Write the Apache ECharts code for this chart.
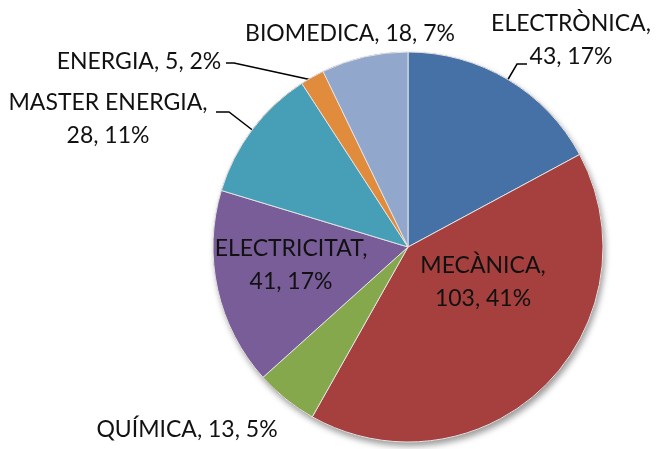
<!DOCTYPE html>
<html>
<head>
<meta charset="utf-8">
<script src="https://cdn.jsdelivr.net/npm/echarts@6/dist/echarts.min.js"></script>
<style>
  html, body { margin: 0; padding: 0; background: #fff; }
  #chart { width: 656px; height: 449px; }
</style>
</head>
<body>
<div id="chart"></div>
<script>
// categories, values and the percent text shown in the reference
const categories = ['ELECTRÒNICA', 'MECÀNICA', 'QUÍMICA', 'ELECTRICITAT', 'MASTER ENERGIA', 'ENERGIA', 'BIOMEDICA'];
const values = [43, 103, 13, 41, 28, 5, 18];
const percentLabels = ['17%', '41%', '5%', '17%', '11%', '2%', '7%'];

const colors = ['#4671a7', '#a5403e', '#86a84c', '#785d98', '#469fb7', '#e18b3c', '#92a7cc'];

// where each label sits (centre of the text block), how it breaks,
// and where its leader line meets the text (null = no line)
const labelPlace = [
  { x: 571, y: 40, two: true, attach: [527, 64], elbow: [517, 64] },
  { x: 483, y: 282, two: true, attach: null },
  { x: 187, y: 430, two: false, attach: null },
  { x: 291, y: 265, two: true, attach: null },
  { x: 108, y: 119, two: true, attach: [216, 112], elbow: [229, 112] },
  { x: 139, y: 62, two: false, attach: [226, 63], elbow: [234, 63] },
  { x: 350, y: 34, two: false, attach: null }
];

const cx = 408, cy = 247, radius = 195;

// mid angle of each slice, clockwise from 12 o'clock
const total = values.reduce((a, b) => a + b, 0);
function edgePoint(i) {
  let before = 0;
  for (let k = 0; k < i; k++) before += values[k];
  const a = (before + values[i] / 2) / total * Math.PI * 2;
  const r = radius - 4;
  return [cx + r * Math.sin(a), cy - r * Math.cos(a)];
}

const chart = echarts.init(document.getElementById('chart'));

const pieData = categories.map((name, i) => ({
  name: name,
  value: values[i],
  itemStyle: { color: colors[i] },
  labelLine: { show: labelPlace[i].attach !== null }
}));

chart.setOption({
  animation: false,
  series: [
    {
      // shadow underneath the pie
      type: 'pie',
      silent: true,
      center: [cx, cy],
      radius: radius,
      label: { show: false },
      data: [{ value: 1, itemStyle: { color: '#5e2422' } }],
      itemStyle: {
        shadowBlur: 6,
        shadowOffsetX: 2,
        shadowOffsetY: 4,
        shadowColor: 'rgba(0,0,0,0.4)'
      },
      z: 1
    },
    {
      type: 'pie',
      center: [cx, cy],
      radius: radius,
      startAngle: 90,
      clockwise: true,
      z: 2,
      itemStyle: { borderColor: '#e4e4e4', borderWidth: 1 },
      label: {
        show: true,
        position: 'outside',
        overflow: 'none',
        fontFamily: 'Lato',
        fontSize: 23,
        lineHeight: 33,
        color: '#111',
        align: 'center',
        formatter: function (p) {
          const sep = labelPlace[p.dataIndex].two ? ',\n' : ', ';
          return p.name + sep + p.value + ', ' + percentLabels[p.dataIndex];
        }
      },
      labelLine: {
        show: true,
        lineStyle: { color: '#000', width: 1.5 }
      },
      labelLayout: function (params) {
        const i = params.dataIndex;
        const pl = labelPlace[i];
        const out = {
          x: pl.x,
          y: pl.y,
          align: 'center',
          verticalAlign: 'middle',
          moveOverlap: false
        };
        if (pl.attach) {
          out.labelLinePoints = [edgePoint(i), pl.elbow, pl.attach];
        }
        return out;
      },
      data: pieData
    }
  ]
});
</script>
</body>
</html>
